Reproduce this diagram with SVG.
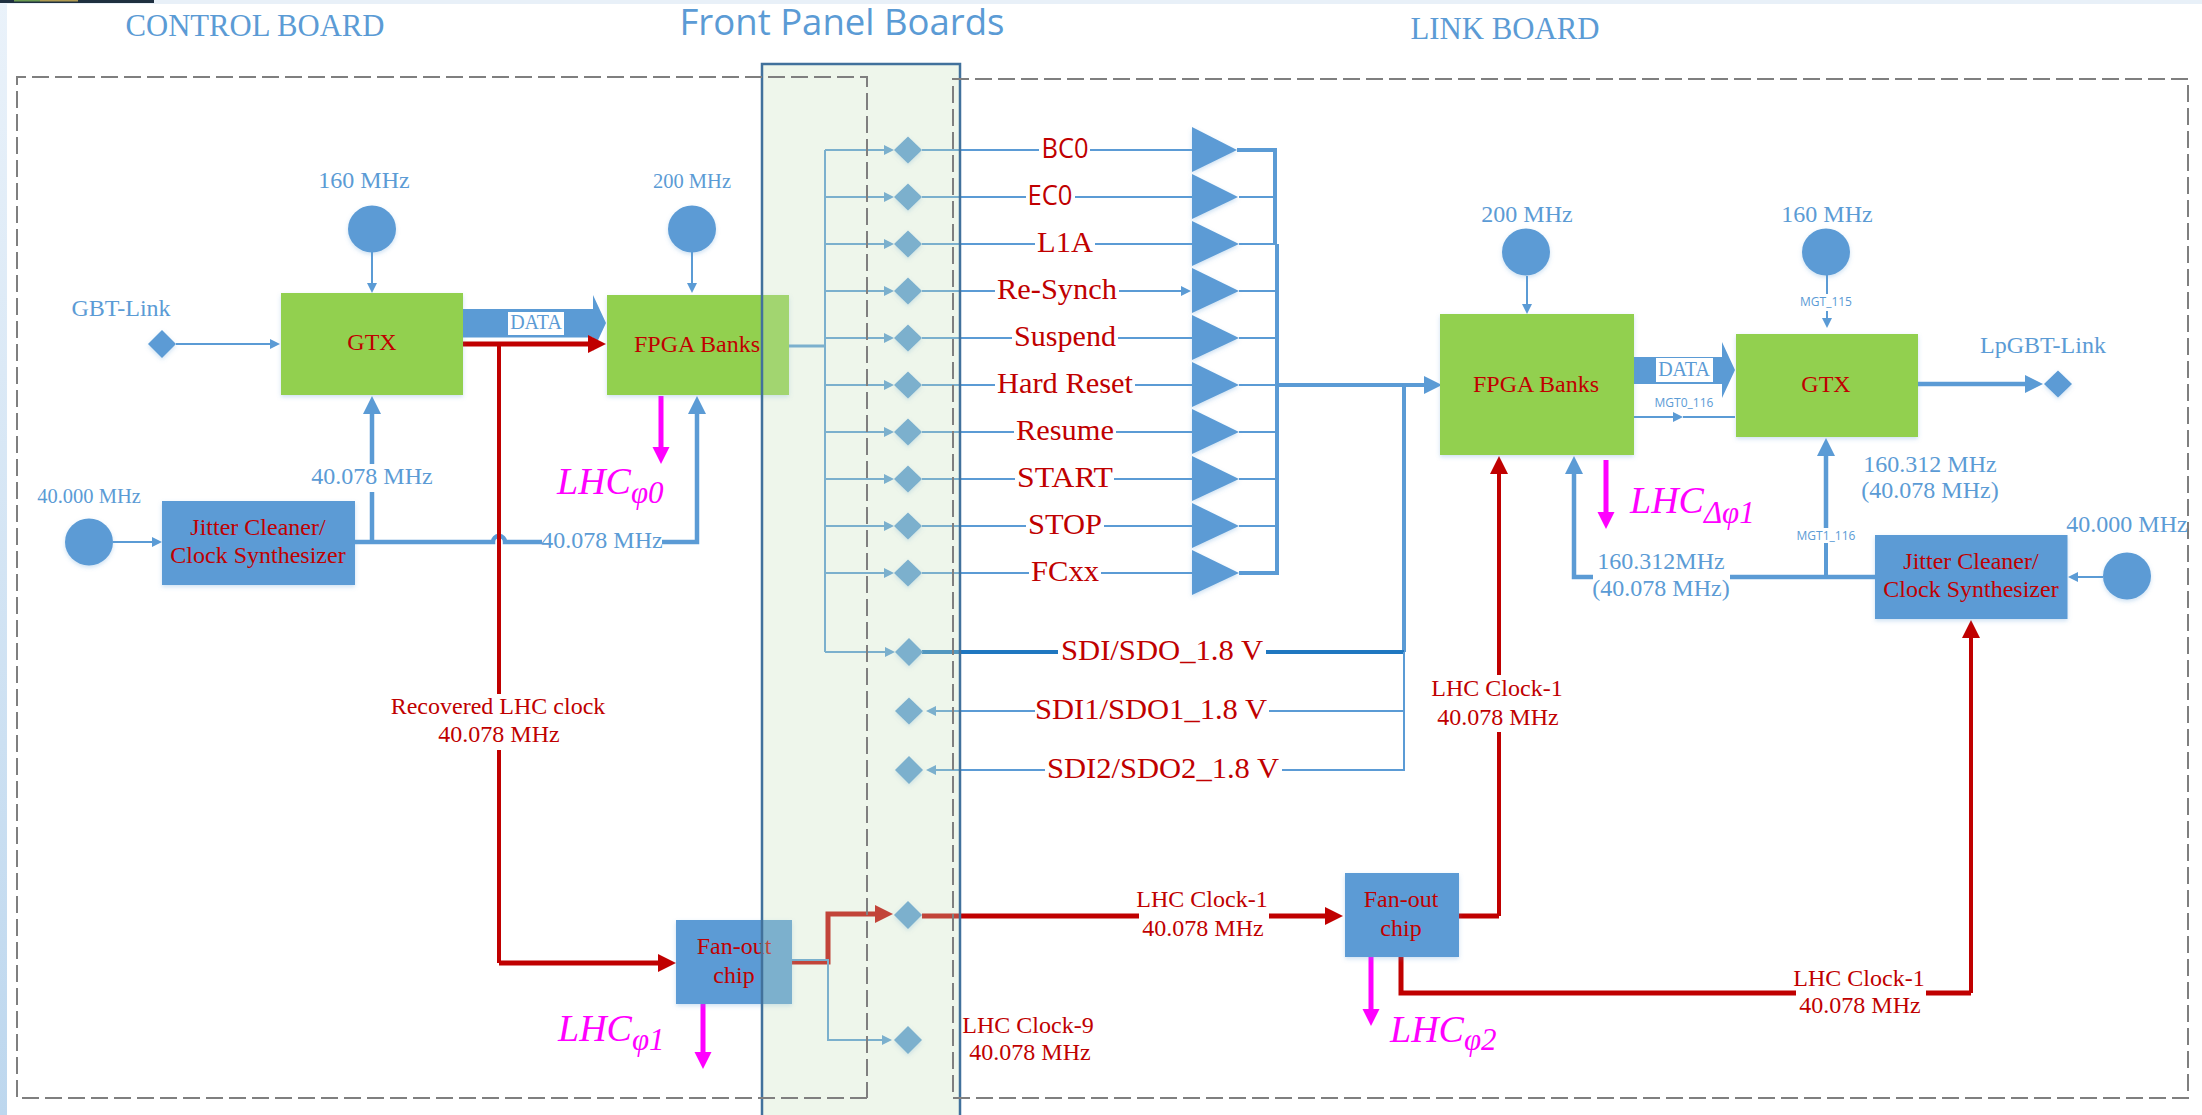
<svg xmlns="http://www.w3.org/2000/svg" width="2202" height="1115" viewBox="0 0 2202 1115">
<style>
text{font-family:"Liberation Serif","Times New Roman",serif;text-anchor:middle}
.t24{font-size:24px}.t20{font-size:20px}.t29{font-size:29px}
.blue{fill:#5b9bd5}.red{fill:#c00000}.mag{fill:#ff00ff;font-style:italic;text-anchor:start}
.cap{font-size:31px;fill:#5b9bd5}
.small{font-family:"Open Sans","Liberation Sans",sans-serif;font-size:12px;fill:#5b9bd5}
.sans{font-family:"Open Sans","Liberation Sans",sans-serif;font-size:27px;fill:#c00000}
.lc{font-size:38px}.ls{font-size:31px}
.box{fill:#5b9bd5;filter:url(#sh)}.gr{fill:#92d050;filter:url(#sh)}
.s{fill:#5b9bd5;filter:url(#sh)}
.thin{fill:none;stroke:#5b9bd5;stroke-width:2}
.mid{fill:none;stroke:#5b9bd5;stroke-width:4}
.thk{fill:none;stroke:#5b9bd5;stroke-width:4.500}
.rd{fill:none;stroke:#c00000;stroke-width:4}
.rdk{fill:none;stroke:#c00000;stroke-width:5}
.mg{fill:none;stroke:#ff00ff;stroke-width:5}
.dash{fill:none;stroke:#7f7f7f;stroke-width:2;stroke-dasharray:17 6}
</style>
<defs>
<filter id="sh" x="-20%" y="-20%" width="140%" height="140%"><feDropShadow dx="0" dy="2" stdDeviation="2" flood-color="#5b9bd5" flood-opacity="0.3"/></filter>
<linearGradient id="lg" x1="0" y1="0" x2="0" y2="1"><stop offset="0" stop-color="#eaf2fa"/><stop offset="1" stop-color="#bdd7ee"/></linearGradient>
<marker id="a" markerUnits="userSpaceOnUse" markerWidth="11" markerHeight="12" refX="0" refY="6" orient="auto"><path d="M0 1L10 6L0 11Z" fill="#5b9bd5"/></marker>
<marker id="b" markerUnits="userSpaceOnUse" markerWidth="19" markerHeight="20" refX="0" refY="10" orient="auto"><path d="M0 1L18 10L0 19Z" fill="#5b9bd5"/></marker>
<marker id="r" markerUnits="userSpaceOnUse" markerWidth="19" markerHeight="20" refX="0" refY="10" orient="auto"><path d="M0 1L18 10L0 19Z" fill="#c00000"/></marker>
<marker id="m" markerUnits="userSpaceOnUse" markerWidth="18" markerHeight="20" refX="0" refY="10" orient="auto"><path d="M0 1.5L17 10L0 18.5Z" fill="#ff00ff"/></marker>
</defs>
<rect width="2202" height="1115" fill="#fff"/>
<g id="frame-strips">
<rect x="0" y="0" width="2202" height="4" fill="#e8f0f8"/>
<rect x="0" y="0" width="7" height="1115" fill="url(#lg)"/>
<rect x="0" y="0" width="154" height="3" fill="#1f3040"/>
<rect x="14" y="0" width="26" height="1.500" fill="#6a9a50"/><rect x="40" y="0" width="38" height="1.500" fill="#b09a50"/>
</g>
<g id="connectors">
<path class="thin" d="M176 344H270" marker-end="url(#a)"/>
<path class="thin" d="M372 252V283" marker-end="url(#a)"/>
<path class="thin" d="M692 252V283" marker-end="url(#a)"/>
<path class="thin" d="M113 542H152" marker-end="url(#a)"/>
<path class="thk" d="M355 542H493A6 6 0 0 1 505 542H542"/>
<path class="thk" d="M662 542H697V414" marker-end="url(#b)"/>
<path class="thk" d="M372 542V492M372 464V414" marker-end="url(#b)"/>
<path d="M463 309H593V295L606 323L593 351V337.500H463Z" fill="#5b9bd5"/>
<path class="rdk" d="M463 344H588" marker-end="url(#r)"/>
<path class="rd" d="M499 344V694M499 750V963"/>
<path class="rdk" d="M499 963H658" marker-end="url(#r)"/>
<path class="thin" style="stroke-width:3" d="M789 346H825"/>
<path class="thin" d="M825 150V652"/>
<path class="thin" d="M825 150H884" marker-end="url(#a)"/><path class="thin" d="M825 197H884" marker-end="url(#a)"/><path class="thin" d="M825 244H884" marker-end="url(#a)"/><path class="thin" d="M825 291H884" marker-end="url(#a)"/><path class="thin" d="M825 338H884" marker-end="url(#a)"/><path class="thin" d="M825 385H884" marker-end="url(#a)"/><path class="thin" d="M825 432H884" marker-end="url(#a)"/><path class="thin" d="M825 479H884" marker-end="url(#a)"/><path class="thin" d="M825 526H884" marker-end="url(#a)"/><path class="thin" d="M825 573H884" marker-end="url(#a)"/><path class="thin" d="M825 652H885" marker-end="url(#a)"/>
<path class="thin" d="M922 150H1039M1090 150H1192M922 197H1026M1075 197H1192M922 244H1035M1095 244H1192M922 338H1012M1118 338H1192M922 385H995M1135 385H1192M922 432H1014M1116 432H1192M922 479H1015M1114 479H1192M922 526H1026M1104 526H1192M922 573H1029M1101 573H1192"/>
<path class="thin" d="M922 291H995"/>
<path class="thin" d="M1119 291H1181" marker-end="url(#a)"/>
<path class="thin" d="M1239 197H1275M1239 244H1277M1239 291H1277M1239 338H1277M1239 385H1277M1239 432H1277M1239 479H1277M1239 526H1277"/>
<path class="mid" d="M1237 150H1275V244M1277 244V573H1239"/>
<path class="mid" d="M1277 385H1424" marker-end="url(#b)"/>
<path class="mid" d="M1404 385V652"/>
<path fill="none" stroke="#1f77c0" stroke-width="4" d="M922 652H1058M1266 652H1404"/>
<path class="thin" d="M1404 652V770H1282M1404 711H1269"/>
<path class="thin" d="M1035 711H936" marker-end="url(#a)"/>
<path class="thin" d="M1045 770H936" marker-end="url(#a)"/>
<path class="rdk" d="M792 962H828V914H875" marker-end="url(#r)"/>
<path class="thin" d="M792 960H828V1040H882" marker-end="url(#a)"/>
<path class="rdk" d="M922 916H1139M1269 916H1325" marker-end="url(#r)"/>
<path class="rdk" d="M1459 916H1499"/>
<path class="rd" d="M1499 916V732M1499 675V474" marker-end="url(#r)"/>
<path class="rdk" d="M1401 957V993H1796M1926 993H1971"/>
<path class="rd" d="M1971 993V638" marker-end="url(#r)"/>
<path d="M1634 357H1722V342L1735 370L1722 398V384H1634Z" fill="#5b9bd5"/>
<path class="thin" d="M1634 417H1673" marker-end="url(#a)"/><path class="thin" d="M1683 417H1735"/>
<path class="thin" d="M1527 276V304" marker-end="url(#a)"/>
<path class="thin" d="M1827 275V294"/><path class="thin" d="M1827 311V318" marker-end="url(#a)"/>
<path class="thk" d="M1918 384H2025" marker-end="url(#b)"/>
<path class="thk" d="M1875 577H1730M1593 577H1574V474" marker-end="url(#b)"/>
<path class="mid" d="M1826 577V543"/>
<path class="thk" d="M1826 528V456" marker-end="url(#b)"/>
<path class="thin" d="M2103 577H2078" marker-end="url(#a)"/>
<path class="mg" d="M661 396V447" marker-end="url(#m)"/>
<path class="mg" d="M703 999V1052" marker-end="url(#m)"/>
<path class="mg" d="M1371 957V1009" marker-end="url(#m)"/>
<path class="mg" d="M1606 460V512" marker-end="url(#m)"/>
</g>
<g id="gbt-link"><path class="s" d="M162 330L176 344L162 358L148 344Z"/><text class="blue" x="121" y="316" font-size="24">GBT-Link</text></g>
<g id="gtx-left"><rect class="gr" x="281" y="293" width="182" height="102"/><text class="red t24" x="372" y="350">GTX</text></g>
<g id="clk-160-left"><ellipse class="s" cx="372" cy="229" rx="24" ry="23.500"/><text class="blue t24" x="364" y="188">160 MHz</text></g>
<g id="fpga-left"><rect class="gr" x="607" y="295" width="182" height="100"/><text class="red t24" x="697" y="352">FPGA Banks</text></g>
<g id="clk-200-left"><ellipse class="s" cx="692" cy="229" rx="24" ry="23.500"/><text class="blue" x="692" y="188" font-size="20.500">200 MHz</text></g>
<g id="clk-40-left"><ellipse class="s" cx="89" cy="542" rx="24" ry="23.500"/><text class="blue" x="89" y="503" font-size="20.500">40.000 MHz</text></g>
<g id="jitter-left"><rect class="box" x="162" y="501" width="193" height="84"/><text class="red t24" x="258" y="535">Jitter Cleaner/</text><text class="red t24" x="258" y="563">Clock Synthesizer</text></g>
<g id="fanout-left"><rect class="box" x="676" y="920" width="116" height="84"/><text class="red t24" x="734" y="954">Fan-out</text><text class="red t24" x="734" y="983">chip</text></g>
<g id="fp-diamonds">
<path class="s" d="M908 136.500L922 150L908 163.500L894 150Z"/><path class="s" d="M908 183.500L922 197L908 210.500L894 197Z"/><path class="s" d="M908 230.500L922 244L908 257.500L894 244Z"/><path class="s" d="M908 277.500L922 291L908 304.500L894 291Z"/><path class="s" d="M908 324.500L922 338L908 351.500L894 338Z"/><path class="s" d="M908 371.500L922 385L908 398.500L894 385Z"/><path class="s" d="M908 418.500L922 432L908 445.500L894 432Z"/><path class="s" d="M908 465.500L922 479L908 492.500L894 479Z"/><path class="s" d="M908 512.500L922 526L908 539.500L894 526Z"/><path class="s" d="M908 559.500L922 573L908 586.500L894 573Z"/>
<path class="s" d="M909 638L923 652L909 666L895 652Z"/><path class="s" d="M909 697.500L923 711L909 724.500L895 711Z"/><path class="s" d="M909 756L923 770L909 784L895 770Z"/><path class="s" d="M908 901L922 915L908 929L894 915Z"/><path class="s" d="M908 1026L922 1040L908 1054L894 1040Z"/>
</g>
<g id="front-panel"><rect x="762" y="64" width="198" height="1053" fill="#c8e1be" fill-opacity="0.3" stroke="#41719c" stroke-width="2.500"/></g>
<g id="board-outlines">
<path class="dash" d="M867 1098H17V77H867V1098"/>
<path class="dash" d="M953 1098H2188V79H953V1098"/>
</g>
<g id="titles">
<text class="cap" x="255" y="36" textLength="259" lengthAdjust="spacingAndGlyphs">CONTROL BOARD</text>
<text x="842" y="35" font-size="36" fill="#5b9bd5" style="font-family:'Open Sans','Liberation Sans',sans-serif" textLength="325" lengthAdjust="spacingAndGlyphs">Front Panel Boards</text>
<text class="cap" x="1505" y="39" textLength="189" lengthAdjust="spacingAndGlyphs">LINK BOARD</text>
</g>
<g id="drivers">
<path class="s" d="M1192 127L1237 150L1192 172Z"/><path class="s" d="M1192 174L1238 197L1192 219Z"/><path class="s" d="M1192 221L1239 244L1192 266Z"/><path class="s" d="M1192 268L1239 291L1192 313Z"/><path class="s" d="M1192 315L1239 338L1192 360Z"/><path class="s" d="M1192 362L1239 385L1192 407Z"/><path class="s" d="M1192 409L1239 432L1192 454Z"/><path class="s" d="M1192 456L1239 479L1192 501Z"/><path class="s" d="M1192 503L1239 526L1192 548Z"/><path class="s" d="M1192 550L1239 573L1192 595Z"/>
</g>
<g id="signal-labels">
<text class="sans" x="1065" y="158" textLength="47" lengthAdjust="spacingAndGlyphs">BC0</text>
<text class="sans" x="1050" y="205" textLength="45" lengthAdjust="spacingAndGlyphs">EC0</text>
<text class="red t29" x="1065" y="252" textLength="56" lengthAdjust="spacingAndGlyphs">L1A</text>
<text class="red t29" x="1057" y="299" textLength="120" lengthAdjust="spacingAndGlyphs">Re-Synch</text>
<text class="red t29" x="1065" y="346" textLength="102" lengthAdjust="spacingAndGlyphs">Suspend</text>
<text class="red t29" x="1065" y="393" textLength="136" lengthAdjust="spacingAndGlyphs">Hard Reset</text>
<text class="red t29" x="1065" y="440" textLength="98" lengthAdjust="spacingAndGlyphs">Resume</text>
<text class="red t29" x="1065" y="487" textLength="96" lengthAdjust="spacingAndGlyphs">START</text>
<text class="red t29" x="1065" y="534" textLength="74" lengthAdjust="spacingAndGlyphs">STOP</text>
<text class="red t29" x="1065" y="581" textLength="68" lengthAdjust="spacingAndGlyphs">FCxx</text>
<text class="red t29" x="1162" y="660" textLength="202" lengthAdjust="spacingAndGlyphs">SDI/SDO_1.8 V</text>
<text class="red t29" x="1151" y="719" textLength="232" lengthAdjust="spacingAndGlyphs">SDI1/SDO1_1.8 V</text>
<text class="red t29" x="1163" y="778" textLength="232" lengthAdjust="spacingAndGlyphs">SDI2/SDO2_1.8 V</text>
</g>
<g id="connector-labels">
<text class="blue t24" x="372" y="484">40.078 MHz</text>
<text class="blue t24" x="602" y="548">40.078 MHz</text>
<rect x="508" y="312" width="56" height="23" fill="#fff"/><text class="blue t20" x="536" y="329">DATA</text>
<text class="red t24" x="498" y="714">Recovered LHC clock</text><text class="red t24" x="499" y="742">40.078 MHz</text>
<text class="red t24" x="1028" y="1033">LHC Clock-9</text><text class="red t24" x="1030" y="1060">40.078 MHz</text>
<text class="red t24" x="1202" y="907">LHC Clock-1</text><text class="red t24" x="1203" y="936">40.078 MHz</text>
<text class="red t24" x="1497" y="696">LHC Clock-1</text><text class="red t24" x="1498" y="725">40.078 MHz</text>
<text class="red t24" x="1859" y="986">LHC Clock-1</text><text class="red t24" x="1860" y="1013">40.078 MHz</text>
<text class="blue t24" x="1661" y="569">160.312MHz</text><text class="blue t24" x="1661" y="596">(40.078 MHz)</text>
<text class="blue t24" x="1930" y="472">160.312 MHz</text><text class="blue t24" x="1930" y="498">(40.078 MHz)</text>
<rect x="1656" y="358" width="57" height="24" fill="#fff"/><text class="blue t20" x="1684" y="376">DATA</text>
<text class="small" x="1684" y="407">MGT0_116</text>
<text class="small" x="1826" y="306">MGT_115</text>
<text class="small" x="1826" y="540">MGT1_116</text>
</g>
<g id="phase-labels">
<text class="mag" x="557" y="494"><tspan class="lc">LHC</tspan><tspan class="ls" dy="9">φ0</tspan></text>
<text class="mag" x="558" y="1041"><tspan class="lc">LHC</tspan><tspan class="ls" dy="9">φ1</tspan></text>
<text class="mag" x="1390" y="1042"><tspan class="lc">LHC</tspan><tspan class="ls" dy="8">φ2</tspan></text>
<text class="mag" x="1630" y="513"><tspan class="lc">LHC</tspan><tspan class="ls" dy="10">Δφ1</tspan></text>
</g>
<g id="fpga-right"><rect class="gr" x="1440" y="314" width="194" height="141"/><text class="red t24" x="1536" y="392">FPGA Banks</text></g>
<g id="clk-200-right"><ellipse class="s" cx="1526" cy="252" rx="24" ry="23.500"/><text class="blue t24" x="1527" y="222">200 MHz</text></g>
<g id="gtx-right"><rect class="gr" x="1736" y="334" width="182" height="103"/><text class="red t24" x="1826" y="392">GTX</text></g>
<g id="clk-160-right"><ellipse class="s" cx="1826" cy="252" rx="24" ry="23.500"/><text class="blue t24" x="1827" y="222">160 MHz</text></g>
<g id="lpgbt-link"><path class="s" d="M2058 370.500L2072 384L2058 397.500L2044 384Z"/><text class="blue t24" x="2043" y="353">LpGBT-Link</text></g>
<g id="jitter-right"><rect class="box" x="1875" y="535" width="192.500" height="84"/><text class="red t24" x="1971" y="569">Jitter Cleaner/</text><text class="red t24" x="1971" y="597">Clock Synthesizer</text></g>
<g id="clk-40-right"><ellipse class="s" cx="2127" cy="576" rx="24" ry="23.500"/><text class="blue t24" x="2127" y="532">40.000 MHz</text></g>
<g id="fanout-right"><rect class="box" x="1345" y="873" width="114" height="84"/><text class="red t24" x="1401" y="907">Fan-out</text><text class="red t24" x="1401" y="936">chip</text></g>
</svg>
